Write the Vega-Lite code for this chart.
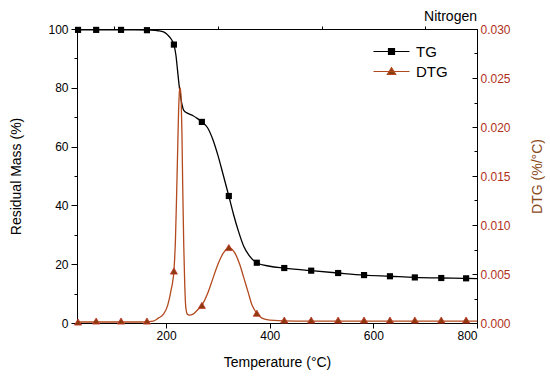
{
  "$schema": "https://vega.github.io/schema/vega-lite/v6.json",
  "autosize": {"type": "none"},
  "width": 400,
  "height": 294,
  "padding": {"left": 77, "top": 29, "right": 73, "bottom": 59},
  "background": "white",
  "title": {"text": "Nitrogen", "anchor": "end", "frame": "group", "fontSize": 14, "fontWeight": "normal", "font": "Liberation Sans", "color": "black", "offset": -1},
  "config": {
    "view": {"stroke": "black", "strokeWidth": 1},
    "font": "Liberation Sans",
    "axis": {"grid": false, "domainColor": "black", "tickColor": "black", "labelColor": "black", "titleColor": "black", "labelFontSize": 12, "titleFontSize": 14, "titleFontWeight": "normal", "labelFont": "Liberation Sans", "titleFont": "Liberation Sans"}
  },
  "datasets": {
    "tg_curve": [
      {"T": 28, "v": 99.7}, {"T": 60, "v": 99.7}, {"T": 100, "v": 99.7}, {"T": 140, "v": 99.7}, {"T": 170, "v": 99.6},
      {"T": 185, "v": 99.4}, {"T": 195, "v": 99.0}, {"T": 203, "v": 98.0}, {"T": 210, "v": 96.5}, {"T": 215, "v": 94.7},
      {"T": 219, "v": 91}, {"T": 222, "v": 86}, {"T": 225, "v": 81}, {"T": 228, "v": 77}, {"T": 231, "v": 74},
      {"T": 234, "v": 72.3}, {"T": 242, "v": 71.3}, {"T": 252, "v": 70.5}, {"T": 260, "v": 69.6}, {"T": 269, "v": 68.4},
      {"T": 280, "v": 66.4}, {"T": 290, "v": 62.5}, {"T": 300, "v": 57}, {"T": 310, "v": 50.5}, {"T": 321, "v": 43.2},
      {"T": 330, "v": 37}, {"T": 340, "v": 31}, {"T": 350, "v": 26}, {"T": 360, "v": 23}, {"T": 375, "v": 20.5},
      {"T": 400, "v": 19.3}, {"T": 428, "v": 18.7}, {"T": 480, "v": 17.8}, {"T": 532, "v": 17.0}, {"T": 582, "v": 16.3},
      {"T": 632, "v": 15.9}, {"T": 680, "v": 15.5}, {"T": 731, "v": 15.3}, {"T": 779, "v": 15.2}, {"T": 800, "v": 15.1}
    ],
    "tg_marks": [
      {"T": 30, "v": 99.7}, {"T": 65, "v": 99.7}, {"T": 113, "v": 99.7}, {"T": 163, "v": 99.6}, {"T": 215, "v": 94.7},
      {"T": 269, "v": 68.4}, {"T": 321, "v": 43.2}, {"T": 375, "v": 20.5}, {"T": 428, "v": 18.7}, {"T": 480, "v": 17.8},
      {"T": 532, "v": 17.0}, {"T": 582, "v": 16.3}, {"T": 632, "v": 15.9}, {"T": 680, "v": 15.5}, {"T": 731, "v": 15.3},
      {"T": 779, "v": 15.2}
    ],
    "dtg_curve": [
      {"T": 28, "d": 0.0001}, {"T": 100, "d": 0.0001}, {"T": 150, "d": 0.0001}, {"T": 175, "d": 0.0002}, {"T": 185, "d": 0.0005},
      {"T": 195, "d": 0.0009}, {"T": 203, "d": 0.0018}, {"T": 209, "d": 0.0032}, {"T": 215, "d": 0.0053}, {"T": 218, "d": 0.0085},
      {"T": 220, "d": 0.0125}, {"T": 222, "d": 0.017}, {"T": 224, "d": 0.0215}, {"T": 226, "d": 0.0238}, {"T": 227.5, "d": 0.024},
      {"T": 229, "d": 0.0228}, {"T": 230.5, "d": 0.0195}, {"T": 232, "d": 0.014}, {"T": 234, "d": 0.008}, {"T": 236, "d": 0.0038},
      {"T": 238, "d": 0.0016}, {"T": 241, "d": 0.0009}, {"T": 245, "d": 0.0008}, {"T": 252, "d": 0.0009}, {"T": 260, "d": 0.0013},
      {"T": 269, "d": 0.0018}, {"T": 280, "d": 0.003}, {"T": 290, "d": 0.0045}, {"T": 300, "d": 0.006}, {"T": 310, "d": 0.0071},
      {"T": 321, "d": 0.0077}, {"T": 332, "d": 0.0072}, {"T": 342, "d": 0.006}, {"T": 350, "d": 0.0046}, {"T": 358, "d": 0.0032},
      {"T": 366, "d": 0.0018}, {"T": 375, "d": 0.001}, {"T": 385, "d": 0.0005}, {"T": 400, "d": 0.0003}, {"T": 450, "d": 0.0002},
      {"T": 800, "d": 0.0002}
    ],
    "dtg_marks": [
      {"T": 30, "d": 0.0001}, {"T": 65, "d": 0.0002}, {"T": 113, "d": 0.0002}, {"T": 163, "d": 0.0002}, {"T": 215, "d": 0.0053},
      {"T": 269, "d": 0.0018}, {"T": 321, "d": 0.0077}, {"T": 375, "d": 0.001}, {"T": 428, "d": 0.0003}, {"T": 480, "d": 0.0003},
      {"T": 532, "d": 0.0003}, {"T": 582, "d": 0.0003}, {"T": 632, "d": 0.0003}, {"T": 680, "d": 0.0003}, {"T": 731, "d": 0.0003},
      {"T": 779, "d": 0.0003}
    ],
    "legend_items": [{"series": "TG"}, {"series": "DTG"}]
  },
  "layer": [
    {
      "data": {"name": "tg_curve"},
      "mark": {"type": "line", "interpolate": "monotone", "color": "black", "strokeWidth": 1.3},
      "encoding": {
        "x": {"field": "T", "type": "quantitative", "scale": {"domain": [28, 800], "nice": false, "zero": false},
          "axis": {"title": "Temperature (°C)", "values": [200, 400, 600, 800], "tickSize": 5, "labelPadding": 2, "titlePadding": 14}},
        "y": {"field": "v", "type": "quantitative", "scale": {"domain": [0, 100], "nice": false},
          "axis": {"title": "Residual Mass (%)", "orient": "left", "values": [0, 20, 40, 60, 80, 100], "tickSize": 6, "labelPadding": 3, "titlePadding": 24}}
      }
    },
    {
      "data": {"name": "tg_marks"},
      "mark": {"type": "point", "shape": "square", "filled": true, "opacity": 1, "size": 38, "color": "black"},
      "encoding": {
        "x": {"field": "T", "type": "quantitative", "scale": {"domain": [28, 800], "nice": false, "zero": false},
          "axis": {"title": null, "labels": false, "domain": false, "values": [100, 300, 500, 700], "tickSize": 3}},
        "y": {"field": "v", "type": "quantitative", "scale": {"domain": [0, 100], "nice": false},
          "axis": {"title": null, "labels": false, "domain": false, "orient": "left", "values": [10, 30, 50, 70, 90], "tickSize": 3}}
      }
    },
    {
      "data": {"name": "dtg_curve"},
      "mark": {"type": "line", "interpolate": "monotone", "color": "#B24A1E", "strokeWidth": 1.3},
      "encoding": {
        "x": {"field": "T", "type": "quantitative", "scale": {"domain": [28, 800], "nice": false, "zero": false}, "axis": null},
        "y": {"field": "d", "type": "quantitative", "scale": {"domain": [0, 0.03], "nice": false},
          "axis": {"title": "DTG (%/°C)", "orient": "right", "format": ".3f", "titleAngle": -90,
            "values": [0, 0.005, 0.01, 0.015, 0.02, 0.025, 0.03], "tickSize": -5,
            "labelColor": "#B03020", "titleColor": "#8B4A1A", "labelPadding": 8, "titlePadding": 34}}
      }
    },
    {
      "data": {"name": "dtg_marks"},
      "mark": {"type": "point", "shape": "triangle-up", "filled": true, "opacity": 1, "size": 50, "fill": "#8B3A0E", "stroke": "#C0392B", "strokeWidth": 0.8},
      "encoding": {
        "x": {"field": "T", "type": "quantitative", "scale": {"domain": [28, 800], "nice": false, "zero": false}, "axis": null},
        "y": {"field": "d", "type": "quantitative", "scale": {"domain": [0, 0.03], "nice": false},
          "axis": {"title": null, "labels": false, "domain": false, "orient": "right", "values": [0.0025, 0.0075, 0.0125, 0.0175, 0.0225, 0.0275], "tickSize": -3}}
      }
    },
    {
      "data": {"name": "legend_items"},
      "transform": [{"filter": "false"}],
      "mark": {"type": "point", "opacity": 1, "strokeWidth": 1.2},
      "encoding": {
        "shape": {"field": "series", "type": "nominal", "scale": {"domain": ["TG", "DTG"], "range": ["M-3,0H3M-0.5,-0.5H0.5V0.5H-0.5Z", "M-3,0H3M-0.7,0.5L0,-0.65L0.7,0.5Z"]},
          "legend": {"title": null, "orient": "none", "legendX": 307, "legendY": 15, "symbolSize": 144, "labelFontSize": 15,
            "labelFont": "Liberation Sans", "labelColor": "black", "labelOffset": 17, "rowPadding": 4, "padding": 0, "symbolStrokeWidth": 1.2, "symbolOpacity": 1}},
        "fill": {"field": "series", "type": "nominal", "scale": {"domain": ["TG", "DTG"], "range": ["black", "#8B3A0E"]}, "legend": {"title": null}},
        "stroke": {"field": "series", "type": "nominal", "scale": {"domain": ["TG", "DTG"], "range": ["black", "#B24A1E"]}, "legend": {"title": null}}
      }
    }
  ],
  "resolve": {"scale": {"y": "independent"}, "axis": {"x": "independent", "y": "independent"}}
}
